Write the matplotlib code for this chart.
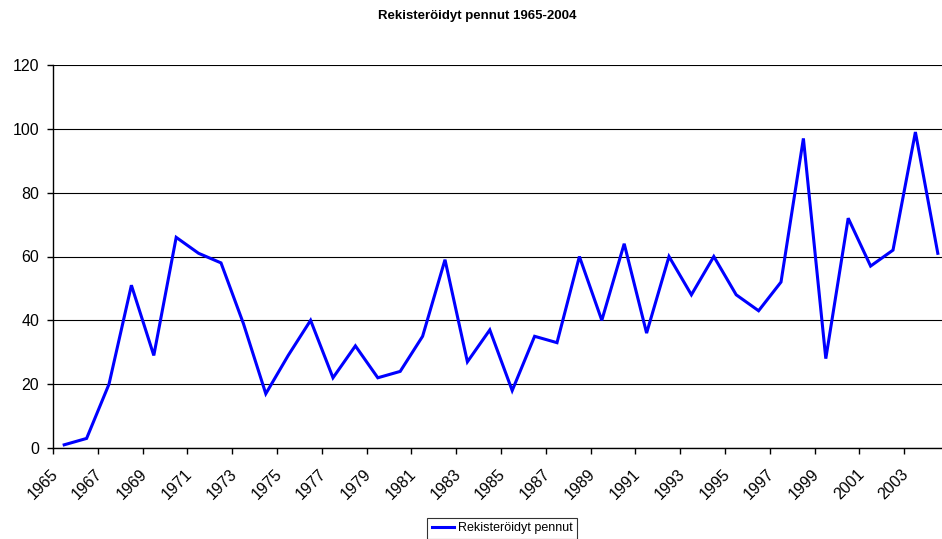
import numpy as np
import matplotlib
matplotlib.use('Agg')
import matplotlib.pyplot as plt
from matplotlib.ticker import FixedLocator, NullFormatter

plt.rcParams['font.family'] = ['Liberation Sans', 'DejaVu Sans']

years = list(range(1965, 2005))
pennut = [1, 3, 20, 51, 29, 66, 61, 58, 39, 17,
          29, 40, 22, 32, 22, 24, 35, 59, 27, 37,
          18, 35, 33, 60, 40, 64, 36, 60, 48, 60,
          48, 43, 52, 97, 28, 72, 57, 62, 99, 61]
y_ticks = [0, 20, 40, 60, 80, 100, 120]

W, H = 942, 539
fig = plt.figure(figsize=(W / 100, H / 100), dpi=100)
# plot area runs a little past the right edge, like the original
ax = fig.add_axes([53 / W, 91 / H, 896 / W, 383 / H])

x = np.arange(len(years)) + 0.5
line, = ax.plot(x, pennut, color='#0000ff', lw=2.2, solid_joinstyle='miter',
                label='Rekisteröidyt pennut', clip_on=False)

ax.set_xlim(0, len(years))
ax.set_ylim(0, 120)
ax.set_yticks(y_ticks)
ax.yaxis.grid(True, color='#000000', lw=0.8)
ax.set_axisbelow(True)
for s in ['top', 'right']:
    ax.spines[s].set_visible(False)
ax.spines['left'].set_linewidth(1.0)
ax.spines['bottom'].set_linewidth(1.0)

# tick marks on category boundaries every second year, labels near the centres
ax.xaxis.set_major_locator(FixedLocator(np.arange(0, len(years) + 1, 2)))
ax.xaxis.set_major_formatter(NullFormatter())
ax.xaxis.set_minor_locator(FixedLocator(x[::2] - 0.4))
ax.set_xticklabels([str(y) for y in years[::2]], minor=True, rotation=45,
                   ha='right', va='center', rotation_mode='anchor', fontsize=11.5)
ax.tick_params(axis='x', which='major', direction='out', length=4, width=1)
ax.tick_params(axis='x', which='minor', length=0, pad=17)
ax.tick_params(axis='y', direction='out', length=4, width=1, labelsize=11.5, pad=6)

fig.text(477 / W, 1 - 16 / H, 'Rekisteröidyt pennut 1965-2004', ha='center',
         va='center', fontsize=9.5, fontweight='bold')

leg = fig.legend(handles=[line], loc='upper center', bbox_to_anchor=(502 / W, 1 - 518 / H),
                 frameon=True, fancybox=False, edgecolor='black', fontsize=9,
                 handlelength=1.8, handletextpad=0.3, borderpad=0.35,
                 borderaxespad=0)
leg.get_frame().set_linewidth(0.8)

fig.savefig('out.png', dpi=100)
